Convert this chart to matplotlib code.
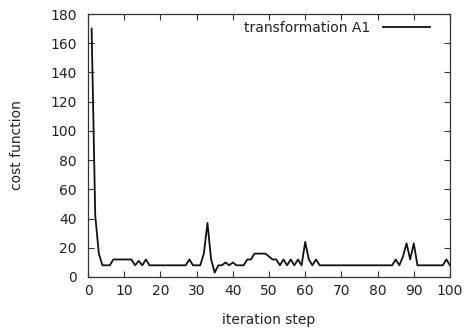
import matplotlib
matplotlib.use("Agg")
import matplotlib.pyplot as plt

# Data (iteration step -> cost function)
steps = list(range(1, 101))
cost = [
    170, 42, 16, 8, 8, 8, 12, 12, 12, 12,      # 1-10
    12, 12, 8, 11, 8, 12, 8, 8, 8, 8,          # 11-20
    8, 8, 8, 8, 8, 8, 8, 12, 8, 8,             # 21-30
    8, 16, 37, 12, 3, 8, 8, 10, 8, 10,         # 31-40
    8, 8, 8, 12, 12, 16, 16, 16, 16, 14,       # 41-50
    12, 12, 8, 12, 8, 12, 8, 12, 8, 24,        # 51-60
    12, 8, 12, 8, 8, 8, 8, 8, 8, 8,            # 61-70
    8, 8, 8, 8, 8, 8, 8, 8, 8, 8,              # 71-80
    8, 8, 8, 8, 12, 8, 14, 23, 12, 23,         # 81-90
    8, 8, 8, 8, 8, 8, 8, 8, 12, 8,             # 91-100
]
series_label = "transformation A1"
x_label = "iteration step"
y_label = "cost function"
x_ticks = list(range(0, 101, 10))
y_ticks = list(range(0, 181, 20))

plt.rcParams['font.family'] = ['DejaVu Sans']
fs = 10

fig = plt.figure(figsize=(4.69, 3.36), dpi=100)
ax = fig.add_axes([88/469, 1-277/336, 362/469, 263/336])

ax.plot(steps, cost, color='#111111', lw=1.3, label=series_label)

ax.set_xlim(0, 100)
ax.set_ylim(0, 180)
ax.set_xticks(x_ticks)
ax.set_yticks(y_ticks)
ax.tick_params(direction='in', top=True, right=True, length=4, width=0.8,
               labelsize=fs, colors='#333333', labelcolor='#222222')
ax.tick_params(axis='y', pad=8)
ax.tick_params(axis='x', pad=5)
for s in ax.spines.values():
    s.set_color('#333333')
    s.set_linewidth(0.9)

ax.set_xlabel(x_label, fontsize=fs, color='#222222', labelpad=11)
ax.set_ylabel(y_label, fontsize=fs, color='#222222', labelpad=19)

leg = ax.legend(loc='center right', bbox_to_anchor=(0.944, 0.947), frameon=False,
                markerfirst=False, handlelength=3.4, handletextpad=0.9,
                fontsize=fs, borderaxespad=0, borderpad=0)
for t in leg.get_texts():
    t.set_color('#222222')

fig.savefig("out.png", dpi=100)
